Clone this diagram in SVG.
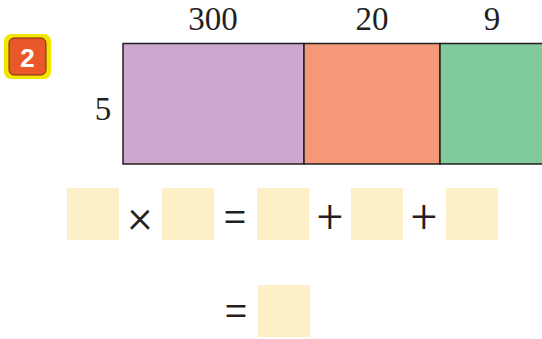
<svg xmlns="http://www.w3.org/2000/svg" width="542" height="339" viewBox="0 0 542 339">
<style>
.t{font-family:"Liberation Serif","DejaVu Serif",serif;font-size:33px;fill:#231f20;text-anchor:middle}
.b{fill:#fdefc8}
.op{font-family:"Roboto","Liberation Sans",sans-serif;font-weight:300;font-size:46px;fill:#231f20;text-anchor:middle}
.cell{stroke:#231f20;stroke-width:1.5}
</style>
<rect width="542" height="339" fill="#fff"/>
<g id="badge">
<rect x="4" y="34" width="47" height="45" rx="7" fill="#f2e600"/>
<rect x="9" y="38" width="37" height="37" rx="5" fill="#e9582b" stroke="#7a2a10" stroke-width="1"/>
<text x="27.5" y="67" font-family="Liberation Sans, DejaVu Sans, sans-serif" font-size="26" font-weight="bold" fill="#fff" text-anchor="middle">2</text>
</g>
<g id="labels">
<text class="t" x="213" y="30">300</text>
<text class="t" x="372" y="30">20</text>
<text class="t" x="492" y="30">9</text>
<text class="t" x="103" y="120">5</text>
</g>
<g id="array">
<rect class="cell" x="123" y="43.5" width="181" height="120.5" fill="#cca7ce"/>
<rect class="cell" x="304" y="43.5" width="136" height="120.5" fill="#f5987a"/>
<rect class="cell" x="440" y="43.5" width="104" height="120.5" fill="#80ca9b"/>
</g>
<g id="equation">
<rect class="b" x="67" y="188" width="52" height="52"/>
<text class="op" x="140" y="232">×</text>
<rect class="b" x="162" y="188" width="52" height="52"/>
<text class="op" x="235" y="232">=</text>
<rect class="b" x="257" y="188" width="52" height="52"/>
<text class="op" x="330" y="232">+</text>
<rect class="b" x="351" y="188" width="52" height="52"/>
<text class="op" x="424" y="232">+</text>
<rect class="b" x="446" y="188" width="52" height="52"/>
<text class="op" x="236" y="326">=</text>
<rect class="b" x="258" y="285" width="52" height="52"/>
</g>
</svg>
